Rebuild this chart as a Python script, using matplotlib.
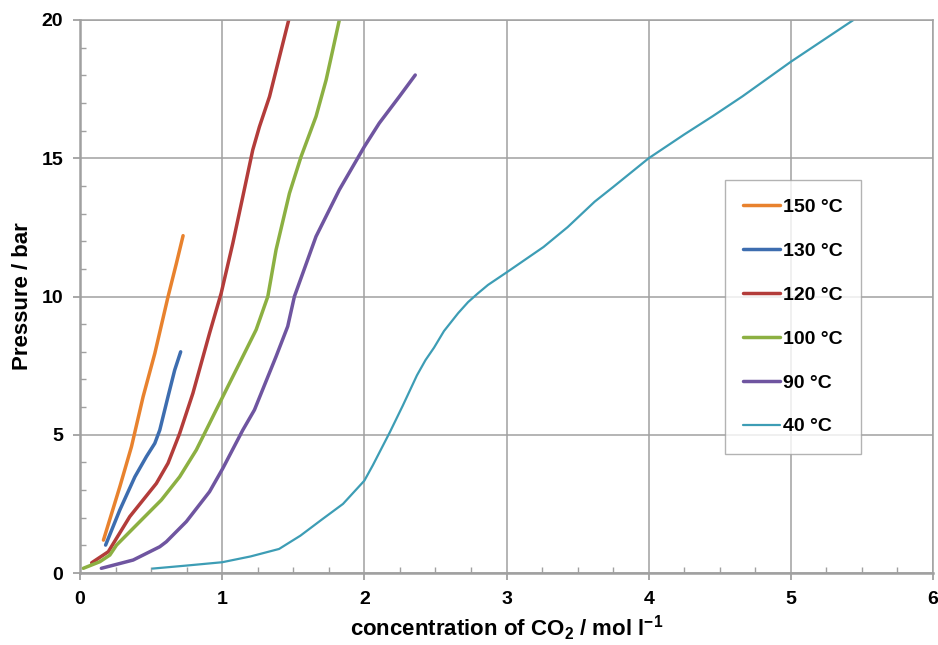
import matplotlib
matplotlib.use("Agg")
import matplotlib.pyplot as plt
from matplotlib.ticker import MultipleLocator

plt.rcParams["font.family"] = ["Liberation Sans", "DejaVu Sans"]
plt.rcParams["font.weight"] = "bold"
plt.rcParams["mathtext.fontset"] = "custom"
plt.rcParams["mathtext.bf"] = "Liberation Sans:bold"
plt.rcParams["mathtext.rm"] = "Liberation Sans:bold"

labels = ["150 °C", "130 °C", "120 °C", "100 °C", "90 °C", "40 °C"]
colors = ["#E8822E", "#3D6DAF", "#B33C3A", "#8CB042", "#6F55A0", "#3D9DB5"]

x150 = [0.165, 0.28, 0.362, 0.444, 0.526, 0.619, 0.678, 0.725]
y150 = [1.19, 3.12, 4.57, 6.38, 7.94, 9.99, 11.2, 12.2]

x130 = [0.18, 0.28, 0.386, 0.467, 0.526, 0.561, 0.619, 0.666, 0.708]
y130 = [1.01, 2.28, 3.48, 4.21, 4.69, 5.17, 6.38, 7.34, 8.0]

x120 = [0.082, 0.199, 0.35, 0.537, 0.619, 0.701, 0.794, 0.911, 0.993,
        1.075, 1.145, 1.215, 1.262, 1.333, 1.403, 1.468]
y120 = [0.37, 0.77, 2.04, 3.24, 3.97, 5.05, 6.5, 8.67, 10.12,
        11.93, 13.61, 15.3, 16.14, 17.23, 18.67, 20.0]

x100 = [0.023, 0.14, 0.21, 0.257, 0.421, 0.572, 0.701, 0.818, 0.911, 0.958,
        1.122, 1.239, 1.321, 1.379, 1.473, 1.555, 1.66, 1.731, 1.778, 1.824]
y100 = [0.17, 0.41, 0.65, 1.01, 1.86, 2.64, 3.48, 4.45, 5.41, 5.9,
        7.59, 8.8, 10.0, 11.69, 13.73, 15.06, 16.51, 17.83, 18.92, 20.0]

x90 = [0.15, 0.374, 0.561, 0.607, 0.748, 0.911, 1.005, 1.145, 1.227, 1.379,
       1.461, 1.508, 1.66, 1.824, 2.0, 2.105, 2.246, 2.358]
y90 = [0.17, 0.47, 0.95, 1.13, 1.86, 2.94, 3.79, 5.17, 5.9, 7.83,
       8.92, 10.0, 12.17, 13.86, 15.42, 16.27, 17.23, 18.01]

x40 = [0.51, 0.75, 1.0, 1.2, 1.4, 1.55, 1.7, 1.85, 2.0, 2.06, 2.12, 2.18,
       2.27, 2.37, 2.43, 2.49, 2.56, 2.66, 2.73, 2.8, 2.87, 3.0, 3.26, 3.43, 3.62, 3.75,
       4.0, 4.25, 4.45, 4.66, 5.0, 5.44]
y40 = [0.16, 0.27, 0.39, 0.6, 0.87, 1.35, 1.93, 2.5, 3.34, 3.9, 4.5, 5.1,
       6.05, 7.15, 7.7, 8.15, 8.75, 9.4, 9.8, 10.12, 10.42, 10.87, 11.79, 12.51, 13.43, 13.96,
       15.0, 15.86, 16.52, 17.24, 18.49, 20.0]

xs = [x150, x130, x120, x100, x90, x40]
ys = [y150, y130, y120, y100, y90, y40]
widths = [2.5, 2.5, 2.5, 2.5, 2.5, 1.6]

fig = plt.figure(figsize=(9.38, 6.45), dpi=100)
ax = fig.add_axes([0.0853, 0.1116, 0.9094, 0.8574])

for x, y, c, lw, lab in zip(xs, ys, colors, widths, labels):
    ax.plot(x, y, color=c, lw=lw, label=lab, solid_capstyle="round",
            solid_joinstyle="round")

ax.set_xlim(0, 6)
ax.set_ylim(0, 20)
ax.xaxis.set_major_locator(MultipleLocator(1))
ax.xaxis.set_minor_locator(MultipleLocator(0.25))
ax.yaxis.set_major_locator(MultipleLocator(5))
ax.yaxis.set_minor_locator(MultipleLocator(1))
ax.grid(True, which="major", color="#A0A0A0", lw=1.1)
ax.set_axisbelow(True)

for s in ax.spines.values():
    s.set_color("#A0A0A0")
    s.set_linewidth(1.1)
ax.spines["left"].set_linewidth(1.8)
ax.spines["bottom"].set_linewidth(1.8)

ax.tick_params(which="major", direction="out", length=5, width=1.3, color="#A0A0A0",
               labelsize=14, pad=8)
ax.tick_params(axis="y", which="major", pad=7)
ax.tick_params(which="minor", direction="in", length=4, width=1.0, color="#A0A0A0")
for t in ax.get_xticklabels() + ax.get_yticklabels():
    t.set_fontweight("bold")

ax.set_xlabel("concentration of CO$_\\mathbf{2}$ / mol l$^\\mathbf{-1}$", fontsize=16,
              fontweight="bold", labelpad=4)
ax.set_ylabel("Pressure / bar", fontsize=16, fontweight="bold", labelpad=6)

leg = ax.legend(loc="upper left", bbox_to_anchor=(0.756, 0.7107), fontsize=14,
                frameon=True, fancybox=False, edgecolor="#A0A0A0", handlelength=1.9,
                handletextpad=0.15, labelspacing=1.35, borderpad=0.95, borderaxespad=0)
leg.get_frame().set_linewidth(1.0)
for t in leg.get_texts():
    t.set_fontweight("bold")

fig.savefig("out.png", dpi=100)
